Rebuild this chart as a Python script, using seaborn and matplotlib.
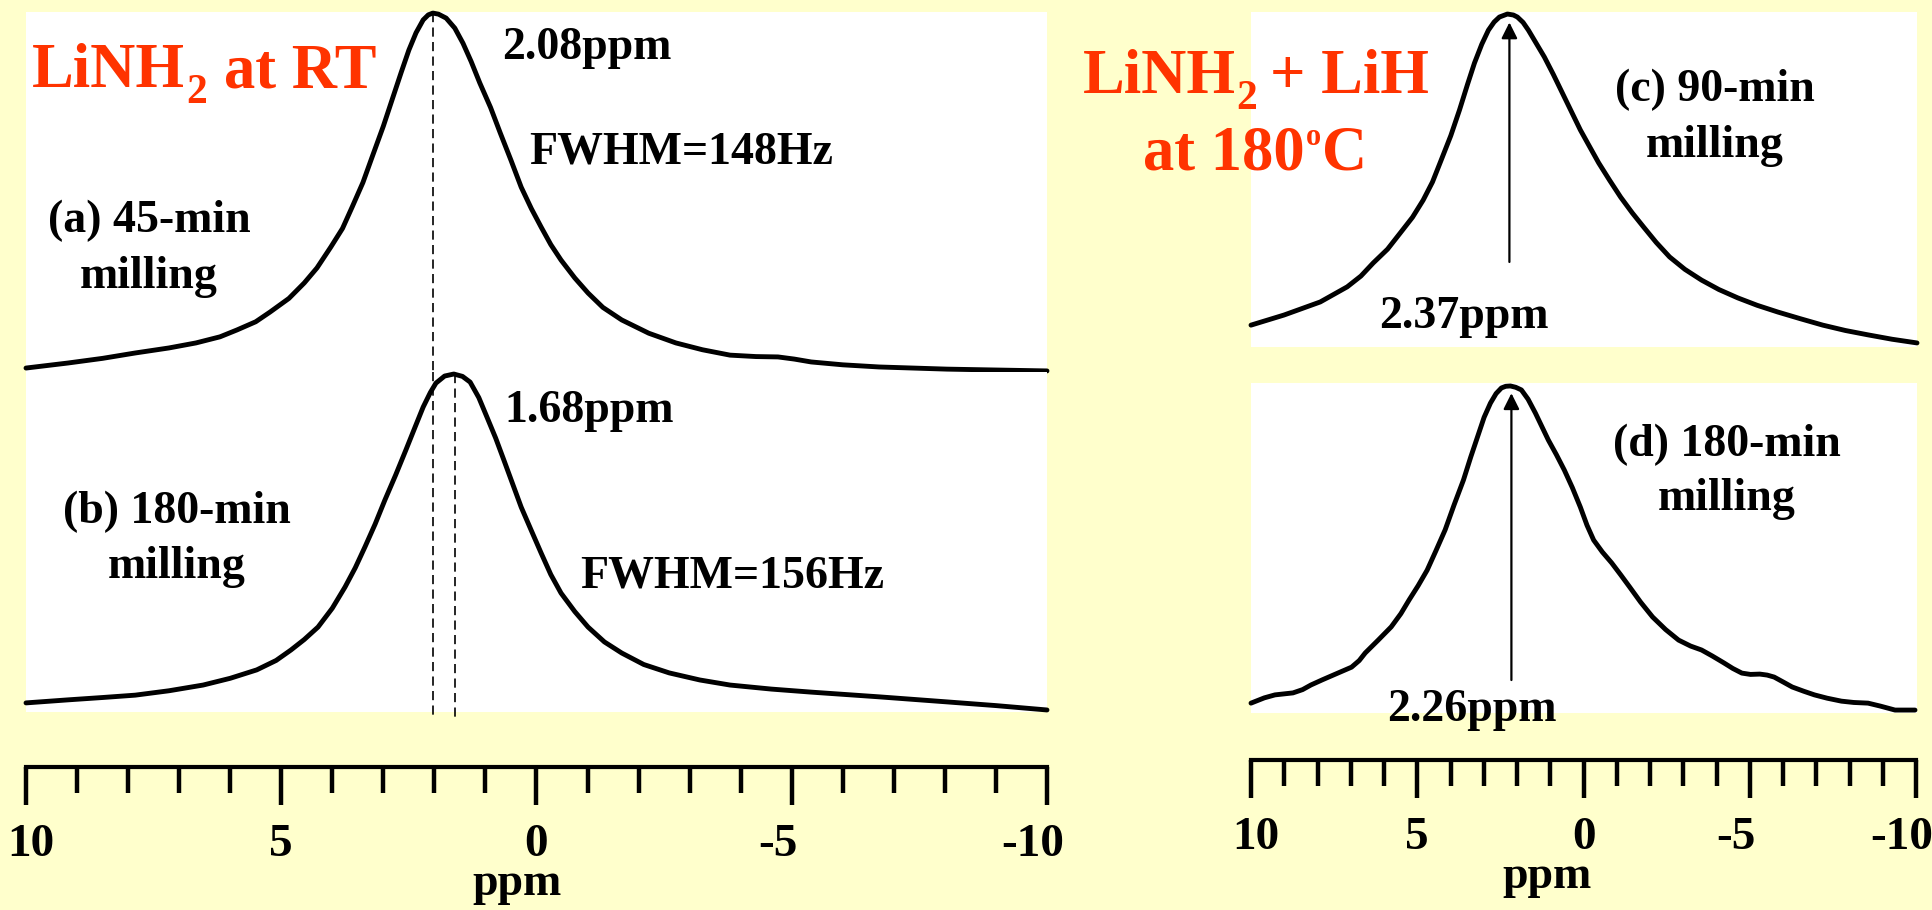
import matplotlib
matplotlib.use("Agg")
import matplotlib.pyplot as plt
import seaborn as sns
from matplotlib.ticker import FixedLocator
from matplotlib.transforms import ScaledTranslation

# ---------------- data ----------------
ppm_a = [10.0, 9.18, 8.5, 7.86, 7.2, 6.67, 6.2, 5.87, 5.5, 5.22, 4.85, 4.55, 4.3, 4.03, 3.8,
         3.61, 3.4, 3.22, 3.0, 2.83, 2.65, 2.50, 2.36, 2.22, 2.12, 2.03, 1.92, 1.77, 1.60,
         1.44, 1.28, 1.11, 0.90, 0.71, 0.50, 0.30, 0.10, -0.09, -0.28, -0.48, -0.75, -1.01,
         -1.30, -1.67, -2.20, -2.73, -3.25, -3.79, -4.30, -4.73, -5.05, -5.38, -6.0, -6.71,
         -8.04, -10.0]
int_a = [0.011, 0.025, 0.038, 0.053, 0.067, 0.081, 0.098, 0.117, 0.140, 0.167, 0.205, 0.248,
         0.290, 0.348, 0.400, 0.460, 0.528, 0.599, 0.685, 0.758, 0.835, 0.897, 0.945, 0.981,
         0.995, 1.0, 0.997, 0.986, 0.958, 0.916, 0.865, 0.805, 0.737, 0.666, 0.590, 0.515,
         0.455, 0.404, 0.355, 0.312, 0.262, 0.220, 0.180, 0.145, 0.108, 0.081, 0.062, 0.047,
         0.043, 0.042, 0.036, 0.028, 0.020, 0.014, 0.008, 0.003]

ppm_b = [10.0, 9.18, 8.5, 7.86, 7.2, 6.53, 6.0, 5.48, 5.1, 4.81, 4.55, 4.28, 4.0, 3.75, 3.55,
         3.36, 3.16, 2.97, 2.76, 2.56, 2.38, 2.22, 2.08, 1.97, 1.80, 1.62, 1.45, 1.30, 1.13,
         0.97, 0.80, 0.64, 0.47, 0.30, 0.10, -0.09, -0.28, -0.48, -0.75, -1.01, -1.33, -1.67,
         -2.1, -2.60, -3.2, -3.79, -4.6, -5.38, -6.71, -8.04, -9.0, -10.0]
int_b = [0.024, 0.033, 0.040, 0.047, 0.060, 0.077, 0.097, 0.122, 0.150, 0.181, 0.212, 0.249,
         0.305, 0.368, 0.425, 0.487, 0.555, 0.626, 0.700, 0.774, 0.842, 0.902, 0.945, 0.973,
         0.994, 1.0, 0.993, 0.976, 0.930, 0.872, 0.810, 0.745, 0.675, 0.605, 0.535, 0.469,
         0.405, 0.350, 0.295, 0.249, 0.205, 0.172, 0.138, 0.113, 0.092, 0.077, 0.065, 0.056,
         0.042, 0.027, 0.016, 0.003]

ppm_c = [10.0, 9.01, 7.92, 7.11, 6.70, 6.33, 5.90, 5.52, 5.15, 4.83, 4.55, 4.29, 4.0, 3.74,
         3.50, 3.29, 3.07, 2.87, 2.70, 2.54, 2.30, 2.12, 2.00, 1.83, 1.67, 1.43, 1.19, 0.92,
         0.65, 0.38, 0.11, -0.17, -0.44, -0.77, -1.10, -1.45, -1.79, -2.17, -2.57, -3.03,
         -3.53, -4.05, -4.62, -5.20, -5.82, -6.5, -7.17, -7.85, -8.53, -9.25, -10.0]
int_c = [0.074, 0.104, 0.143, 0.188, 0.220, 0.259, 0.300, 0.348, 0.395, 0.446, 0.500, 0.565,
         0.638, 0.714, 0.790, 0.854, 0.910, 0.952, 0.976, 0.991, 1.0, 0.997, 0.991, 0.975,
         0.952, 0.912, 0.872, 0.820, 0.765, 0.710, 0.655, 0.605, 0.557, 0.505, 0.455, 0.408,
         0.366, 0.320, 0.277, 0.240, 0.208, 0.180, 0.155, 0.133, 0.113, 0.093, 0.074, 0.058,
         0.045, 0.032, 0.021]

ppm_d = [10.0, 9.6, 9.28, 8.74, 8.45, 8.20, 7.85, 7.53, 6.98, 6.75, 6.57, 6.18, 5.79, 5.50,
         5.25, 4.98, 4.71, 4.45, 4.17, 3.90, 3.62, 3.40, 3.20, 3.00, 2.81, 2.64, 2.48, 2.35,
         2.21, 2.05, 1.88, 1.68, 1.46, 1.27, 1.07, 0.83, 0.59, 0.35, 0.11, -0.09, -0.29,
         -0.55, -0.83, -1.10, -1.37, -1.70, -2.06, -2.45, -2.84, -3.20, -3.53, -3.85, -4.20,
         -4.47, -4.74, -5.0, -5.28, -5.50, -5.71, -6.0, -6.25, -6.60, -6.92, -7.3, -7.73,
         -8.1, -8.53, -8.9, -9.34, -9.94]
int_d = [0.039, 0.055, 0.064, 0.070, 0.080, 0.094, 0.110, 0.124, 0.148, 0.168, 0.191, 0.230,
         0.270, 0.310, 0.352, 0.395, 0.442, 0.500, 0.564, 0.640, 0.715, 0.785, 0.845, 0.905,
         0.948, 0.977, 0.994, 0.999, 1.0, 0.996, 0.988, 0.960, 0.918, 0.878, 0.836, 0.792,
         0.745, 0.692, 0.633, 0.578, 0.533, 0.497, 0.464, 0.428, 0.391, 0.345, 0.300, 0.262,
         0.230, 0.212, 0.200, 0.182, 0.161, 0.144, 0.130, 0.126, 0.127, 0.124, 0.118, 0.102,
         0.088, 0.075, 0.064, 0.054, 0.045, 0.041, 0.039, 0.030, 0.018, 0.018]

# peak markers (drawn position) and their labels
peak_pos = [2.02, 1.60, 2.24, 2.18]
peak_labels = ["2.08ppm", "1.68ppm", "2.37ppm", "2.26ppm"]
fwhm_labels = ["FWHM=148Hz", "FWHM=156Hz"]
sample_labels = ["(a) 45-min\nmilling", "(b) 180-min\nmilling",
                 "(c) 90-min\nmilling", "(d) 180-min\nmilling"]
major_ticks = [10, 5, 0, -5, -10]
minor_ticks = [9, 8, 7, 6, 4, 3, 2, 1, -1, -2, -3, -4, -6, -7, -8, -9]
tick_labels = ["10", "5", "0", "-5", "-10"]

# ---------------- style ----------------
BG = "#FFFFCC"
RED = "#FF3300"
sns.set_theme(style="white")
plt.rcParams.update({
    "font.family": ["Liberation Serif", "DejaVu Serif"],
    "font.weight": "bold",
    "axes.unicode_minus": False,
    "text.color": "black",
    "axes.labelcolor": "black",
})

W, H = 1933, 910
fig = plt.figure(figsize=(W / 100, H / 100), dpi=100, facecolor=BG)
renderer = fig.canvas.get_renderer()


def rect(x0, y0, x1, y1):
    return [x0 / W, 1 - y1 / H, (x1 - x0) / W, (y1 - y0) / H]


def ftext(x, y, s, size, ha="left", color="black", **kw):
    return fig.text(x / W, 1 - y / H, s, ha=ha, va="baseline", fontsize=size,
                    color=color, fontweight="bold", **kw)


def rich(x, y, pieces, ha="left", color=RED):
    """pieces: (text, size_pt, raise_px, gap_before_px)"""
    objs = []
    for s, size, dy, gap in pieces:
        t = ftext(0, 0, s, size, color=color)
        w = t.get_window_extent(renderer).width
        objs.append((t, dy, gap, w))
    total = sum(g + w for _, _, g, w in objs)
    cx = x - (total / 2 if ha == "center" else 0)
    for t, dy, gap, w in objs:
        cx += gap
        t.set_position((cx / W, 1 - (y - dy) / H))
        cx += w


def panel(r, ylim):
    ax = fig.add_axes(r)
    ax.set_facecolor("white")
    for s in ax.spines.values():
        s.set_visible(False)
    ax.set_xlim(10, -10)
    ax.set_ylim(*ylim)
    ax.set_xticks([])
    ax.set_yticks([])
    return ax


def spectrum(ax, x, y):
    sns.lineplot(x=x, y=y, ax=ax, color="black", lw=3.5, estimator=None, sort=False)
    ln = ax.lines[-1]
    ln.set_clip_on(False)
    ln.set_solid_capstyle("round")
    ln.set_solid_joinstyle("round")
    ax.set(xlabel="", ylabel="")
    ax.set_xticks([])
    ax.set_yticks([])


ax_a = panel(rect(26, 12, 1047, 372), (0.0, 1.003))
ax_b = panel(rect(26, 372, 1047, 712), (-0.003, 1.006))
ax_c = panel(rect(1251, 12, 1917, 347), (0.0089, 1.006))
ax_d = panel(rect(1251, 383, 1917, 713), (0.0091, 1.009))

spectrum(ax_a, ppm_a, int_a)
spectrum(ax_b, ppm_b, int_b)
spectrum(ax_c, ppm_c, int_c)
spectrum(ax_d, ppm_d, int_d)

# dashed peak markers (left)
dash = dict(color="black", lw=1.2, ls=(0, (5.5, 3.2)), clip_on=False)
ax_a.plot([peak_pos[0], peak_pos[0]], [1.0, 0.0], **dash)
ax_b.plot([peak_pos[0], peak_pos[0]], [1.006, -0.012], **dash)
ax_b.plot([peak_pos[1], peak_pos[1]], [1.0, -0.018], **dash)

# arrows (right)
arr = dict(arrowstyle="-|>", lw=1.6, color="black", mutation_scale=24,
           shrinkA=0, shrinkB=0)
ax_c.annotate("", xy=(peak_pos[2], 0.975), xytext=(peak_pos[2], 0.262), arrowprops=arr)
ax_d.annotate("", xy=(peak_pos[3], 0.978), xytext=(peak_pos[3], 0.109), arrowprops=arr)


# rulers
def ruler(x0, x1, y, label_x):
    ax = fig.add_axes(rect(x0, y - 1, x1, y))
    ax.patch.set_alpha(0)
    for k in ["top", "left", "right"]:
        ax.spines[k].set_visible(False)
    ax.spines["bottom"].set_linewidth(3.0)
    ax.spines["bottom"].set_color("black")
    ax.set_xlim(10, -10)
    ax.set_yticks([])
    ax.xaxis.set_major_locator(FixedLocator(major_ticks))
    ax.xaxis.set_minor_locator(FixedLocator(minor_ticks))
    ax.set_xticklabels(tick_labels)
    ax.tick_params(axis="x", which="major", bottom=True, direction="out", length=27,
                   width=3.2, color="black", pad=14, labelsize=34, labelcolor="black")
    ax.tick_params(axis="x", which="minor", bottom=True, direction="out", length=19,
                   width=3.2, color="black")
    for t, v in zip(ax.xaxis.get_major_ticks(), major_ticks):
        dx = -14 if v < 0 else (5 if v == 10 else 0)
        t.label1.set_transform(t.label1.get_transform() +
                               ScaledTranslation(dx / 100, 0, fig.dpi_scale_trans))
        t.label1.set_fontweight("bold")
    ax.set_xlabel("ppm", fontsize=33, fontweight="bold", labelpad=-2, color="black")
    ax.xaxis.label.set_x((label_x - x0) / (x1 - x0))
    return ax


ruler(26, 1047, 767, 517)
ruler(1251, 1916, 760, 1547)

# titles (red)
rich(32, 87, [("LiNH", 45, 0, 0), ("2", 30, -16, 1), ("at RT", 45, 0, 17)])
rich(1256, 93, [("LiNH", 45, 0, 0), ("2", 30, -16, 1), ("+ LiH", 45, 0, 13)], ha="center")
rich(1255, 170, [("at 180", 45, 0, 0), ("o", 22, 25, 2), ("C", 45, 0, 1)], ha="center")

# annotations
LS = 33
ftext(502, 59, peak_labels[0], LS)
ftext(529, 164, fwhm_labels[0], LS)
ftext(504, 422, peak_labels[1], LS)
ftext(580, 587, fwhm_labels[1], LS)
ftext(1464, 328, peak_labels[2], LS, ha="center")
ftext(1472, 721, peak_labels[3], LS, ha="center")

for lab, (cx, y1, y2) in zip(sample_labels, [(149, 232, 288), (177, 523, 578),
                                              (1715, 101, 157), (1727, 456, 510)]):
    l1, l2 = lab.split("\n")
    ftext(cx, y1, l1, LS, ha="center")
    ftext(cx, y2, l2, LS, ha="center")

fig.savefig("out.png", dpi=100, facecolor=BG)
